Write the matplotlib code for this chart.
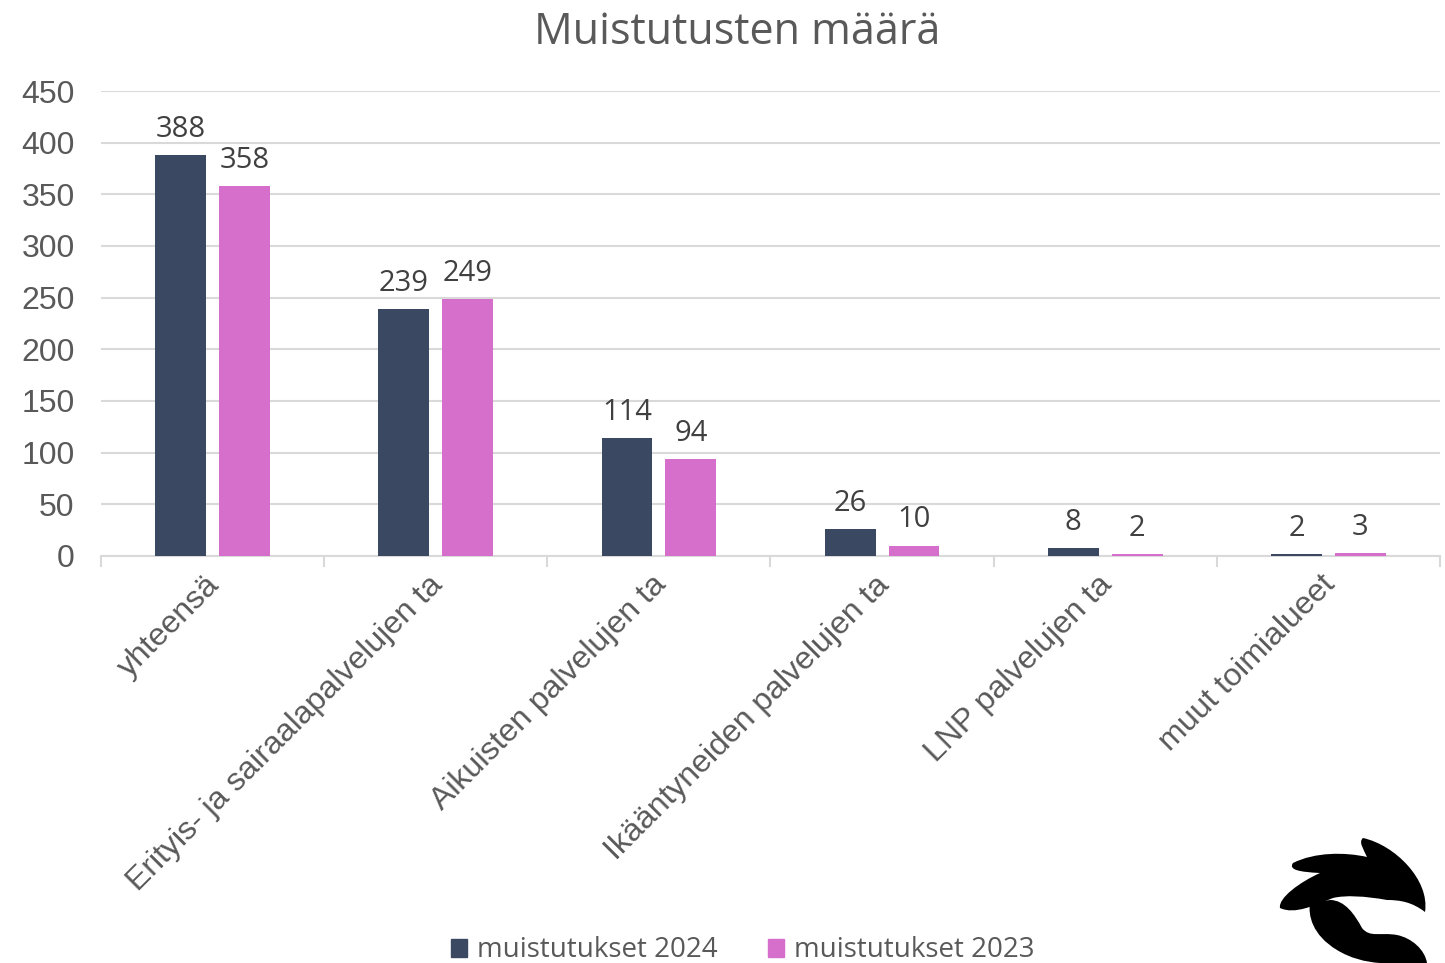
import matplotlib
matplotlib.use("Agg")
import matplotlib.pyplot as plt
import matplotlib.transforms as mtransforms
from matplotlib.path import Path
from matplotlib.patches import PathPatch, Patch
import numpy as np

categories = ["yhteensä", "Erityis- ja sairaalapalvelujen ta", "Aikuisten palvelujen ta",
              "Ikääntyneiden palvelujen ta", "LNP palvelujen ta", "muut toimialueet"]
values_2024 = [388, 239, 114, 26, 8, 2]
values_2023 = [358, 249, 94, 10, 2, 3]
series_names = ["muistutukset 2024", "muistutukset 2023"]
y_ticks = [0, 50, 100, 150, 200, 250, 300, 350, 400, 450]

navy = "#3A4862"
pink = "#D66FCB"
grey_text = "#595959"
label_font = ["Open Sans", "DejaVu Sans"]
tick_font = ["Liberation Sans", "DejaVu Sans"]

fig = plt.figure(figsize=(14.45, 9.63), dpi=100)
ax = fig.add_axes([0.0699, 0.4227, 0.9266, 0.4828])

x = np.arange(len(categories))
w = 0.228
off = 0.143
b1 = ax.bar(x - off, values_2024, w, color=navy, zorder=3)
b2 = ax.bar(x + off, values_2023, w, color=pink, zorder=3)

for bars, vals in ((b1, values_2024), (b2, values_2023)):
    for rect, v in zip(bars, vals):
        ax.annotate(str(v), (rect.get_x() + rect.get_width() / 2, v),
                    xytext=(0, 8), textcoords="offset points",
                    ha="center", va="bottom", fontsize=21,
                    family=label_font, color="#404040")

ax.set_xlim(-0.5, len(categories) - 0.5)
ax.set_ylim(0, 450)
ax.set_yticks(y_ticks)
ax.set_yticklabels([str(t) for t in y_ticks], fontsize=23, family=tick_font,
                   color=grey_text)
ax.tick_params(axis="y", length=0, pad=19)
ax.yaxis.grid(True, color="#D9D9D9", linewidth=1.5, zorder=0)

# category labels at centres, tick marks at the boundaries
ax.set_xticks(x)
ax.set_xticklabels(categories, rotation=45, ha="right", rotation_mode="anchor",
                   fontsize=23, family=tick_font, color=grey_text)
ax.tick_params(axis="x", which="major", length=0, pad=10)
shift = mtransforms.ScaledTranslation(-8 / 100, 0, fig.dpi_scale_trans)
for lbl in ax.get_xticklabels():
    lbl.set_transform(lbl.get_transform() + shift)
ax.set_xticks(np.arange(-0.5, len(categories)), minor=True)
ax.tick_params(axis="x", which="minor", length=8, width=1.5, color="#D9D9D9")

for side in ("top", "right", "left"):
    ax.spines[side].set_visible(False)
ax.spines["bottom"].set_color("#D9D9D9")
ax.spines["bottom"].set_linewidth(1.5)

fig.text(0.5105, 0.966, "Muistutusten määrä", ha="center", va="center",
         fontsize=31, family=label_font, color=grey_text)

handles = [Patch(color=navy), Patch(color=pink)]
fig.legend(handles, series_names, loc="center", bbox_to_anchor=(0.514, 0.013),
           ncol=2, frameon=False, prop={"family": label_font, "size": 20},
           handlelength=0.6, handleheight=0.6, handletextpad=0.35, columnspacing=1.8,
           labelcolor=grey_text)

# black emblem in the lower right corner (pixel coordinates)
M, C, L, Z = Path.MOVETO, Path.CURVE4, Path.LINETO, Path.CLOSEPOLY
upper = [
    ((1293, 863), M),
    ((1315, 852), C), ((1345, 852), C), ((1367, 857), C),
    ((1364, 850), C), ((1358, 842), C), ((1363, 838), C),
    ((1395, 845), C), ((1430, 880), C), ((1425, 912), C),
    ((1412, 902), C), ((1400, 900), C), ((1387, 900), C),
    ((1365, 896), C), ((1345, 895), C), ((1333, 898), C),
    ((1315, 905), C), ((1295, 915), C), ((1280, 908), C),
    ((1278, 898), C), ((1300, 882), C), ((1320, 873), C),
    ((1300, 872), C), ((1288, 870), C), ((1293, 863), C),
    ((1293, 863), Z),
]
lower = [
    ((1310, 903), M),
    ((1308, 915), C), ((1312, 935), C), ((1337, 950), C),
    ((1350, 958), C), ((1365, 962), C), ((1380, 963), C),
    ((1427, 963), L),
    ((1425, 950), C), ((1412, 938), C), ((1397, 935), C),
    ((1380, 932), C), ((1370, 938), C), ((1362, 928), C),
    ((1355, 915), C), ((1345, 900), C), ((1330, 900), C),
    ((1310, 903), L),
    ((1310, 903), Z),
]
H = 963
for pts in (upper, lower):
    verts = [(px / 1445, 1 - py / H) for (px, py), _ in pts]
    codes = [c for _, c in pts]
    fig.add_artist(PathPatch(Path(verts, codes), facecolor="black",
                             edgecolor="none", transform=fig.transFigure))

fig.savefig("out.png", dpi=100)
